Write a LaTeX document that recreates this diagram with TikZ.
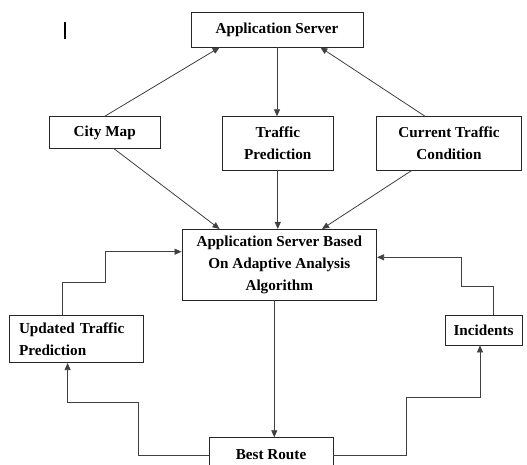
\documentclass[tikz,border=0pt]{standalone}
\usepackage{fontspec}
\setmainfont{Liberation Serif}
\usetikzlibrary{arrows.meta}
\begin{document}
\begin{tikzpicture}[x=1pt,y=-1pt,
  box/.style={draw=black!85, line width=0.8pt, fill=white, align=center,
    font=\fontsize{15.2}{22}\selectfont\bfseries, inner sep=2pt},
  conn/.style={draw=black!75, line width=0.8pt, -{Triangle[length=7pt,width=6pt]}},
  plain/.style={draw=black!75, line width=0.8pt}]
\useasboundingbox (0,0) rectangle (527,464);
\clip (0,0) rectangle (527,464);
\fill[white] (0,0) rectangle (527,464);
% stray mark
\draw[line width=1.6pt] (65,22) -- (65,39);
% nodes
\node[box, minimum width=172pt, minimum height=35pt] (as) at (277,29.5) {Application Server};
\node[box, minimum width=111pt, minimum height=31.6pt] (cm) at (104.7,132.5) {City Map};
\node[box, minimum width=111pt, minimum height=53.3pt] (tp) at (277.8,143.3) {Traffic\\Prediction};
\node[box, minimum width=145.4pt, minimum height=53.3pt] (cc) at (449,143.3) {Current Traffic\\Condition};
\node[box, minimum width=194.7pt, minimum height=70.7pt] (ce) at (279.3,264.7) {Application Server Based\\On Adaptive Analysis\\Algorithm};
\node[box, align=left, text width=114pt, inner xsep=10pt, minimum height=47.7pt] (up) at (76,338.8) {Updated Traffic\\Prediction};
\node[box, minimum width=77pt, minimum height=30pt] (in) at (483.5,330) {Incidents};
\node[box, minimum width=124pt, minimum height=34.6pt] (br) at (271,455) {Best Route};
% connectors
\draw[conn] (cm.north) -- ([xshift=29pt]as.south west);
\draw[conn] ([xshift=-24pt]cc.north) -- ([xshift=-43pt]as.south east);
\draw[conn] (as.south) -- (as.south |- tp.north);
\draw[conn] ([xshift=9.3pt]cm.south) -- ([xshift=38pt]ce.north west);
\draw[conn] (tp.south) -- (tp.south |- ce.north);
\draw[conn] ([xshift=36pt]cc.south west) -- ([xshift=-55pt]ce.north east);
\draw[conn] ([xshift=54pt]up.north west) |- (105.7,282.7) |- ([yshift=13pt]ce.west);
\draw[conn] ([xshift=9.5pt]in.north) |- (461,286) |- ([yshift=7.4pt]ce.east);
\draw[conn] ([xshift=-5pt]ce.south) -- ([xshift=-5pt]ce.south |- br.north);
\draw[conn] (br.west) -| (138.7,402.7) -| ([xshift=59pt]up.south west);
\draw[conn] (br.east) -| (406.7,397.7) -| ([xshift=-3.5pt]in.south);
\end{tikzpicture}
\end{document}
